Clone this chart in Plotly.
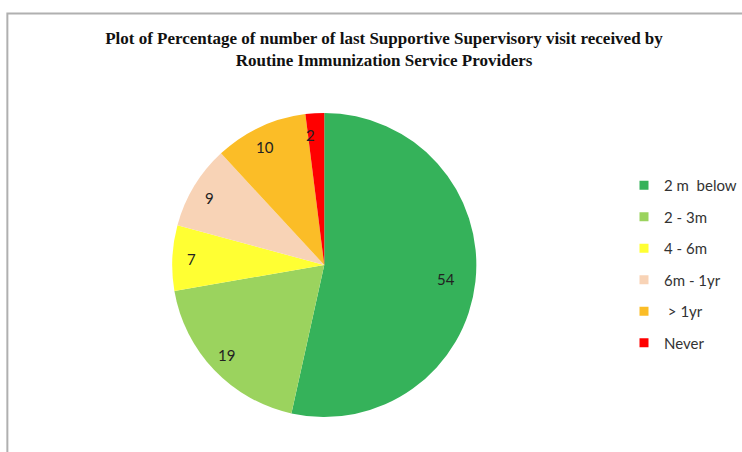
import math
import plotly.graph_objects as go

categories = ["2 m  below", "2 - 3m", "4 - 6m", "6m - 1yr", " > 1yr", "Never"]
values = [54, 19, 7, 9, 10, 2]
colors = ["#35b25a", "#9bd35e", "#ffff33", "#f8d3b6", "#fbbd27", "#ff0000"]
title_text = ("Plot of Percentage of number of last Supportive Supervisory visit received by"
              "<br>Routine Immunization Service Providers")

W, H = 742, 452
cx, cy, r = 325, 265, 151      # rendered pie centre / radius in pixels
dcx, dcy, dr = 330.5, 265, 155  # domain box used to obtain that rendering
label_frac = 0.86              # radial position of data labels

fig = go.Figure()
fig.add_trace(go.Pie(
    labels=categories, values=values,
    textinfo="none",
    marker=dict(colors=colors, line=dict(width=0)),
    sort=False, direction="clockwise", rotation=0,
    domain=dict(x=[(dcx - dr) / W, (dcx + dr) / W], y=[(H - dcy - dr) / H, (H - dcy + dr) / H]),
    showlegend=False, hoverinfo="label+value",
))

# data labels placed at the mid-angle of each slice (derived from the values)
total = sum(values)
annotations = []
cum = 0
for v in values:
    mid = (cum + v / 2) / total * 2 * math.pi
    cum += v
    px = cx + label_frac * r * math.sin(mid)
    py = cy - label_frac * r * math.cos(mid)
    annotations.append(dict(x=px / W, y=1 - py / H, xref="paper", yref="paper",
                            xanchor="center", yanchor="middle",
                            text=str(v), showarrow=False,
                            font=dict(family="Lato", size=15, color="#222222")))

for i, (c, col) in enumerate(zip(categories, colors)):
    fig.add_trace(go.Scatter(
        x=[None], y=[None], mode="markers", name=c,
        marker=dict(symbol="square", size=9, color=col),
        legendgroup=f"g{i}", showlegend=True,
    ))

y_top = 1 - 13.5 / H
x_left = 7.5 / W
fig.update_layout(
    width=W, height=H, autosize=False,
    margin=dict(l=0, r=0, t=0, b=0, pad=0),
    paper_bgcolor="white", plot_bgcolor="white",
    xaxis=dict(visible=False), yaxis=dict(visible=False),
    title=dict(text=title_text, x=384 / W, xref="container", xanchor="center",
               y=1 - 44 / H, yref="container", yanchor="top",
               font=dict(family="Liberation Serif", size=17, color="#111111", weight="bold")),
    legend=dict(x=636 / W, y=1 - 169 / H, xanchor="left", yanchor="top",
                font=dict(family="Lato", size=15, color="#333333"),
                tracegroupgap=9, itemwidth=30, bgcolor="rgba(0,0,0,0)"),
    annotations=annotations,
    shapes=[
        dict(type="path", xref="paper", yref="paper",
             path=f"M {x_left} 0 L {x_left} {y_top} L 1.05 {y_top}",
             line=dict(color="#b0b0b0", width=2)),
    ],
)

fig.write_html(
    "out.html",
    config={"displayModeBar": False},
    post_script="document.documentElement.style.overflow='hidden';"
                "document.body.style.overflow='hidden';document.body.style.margin='0';",
)
